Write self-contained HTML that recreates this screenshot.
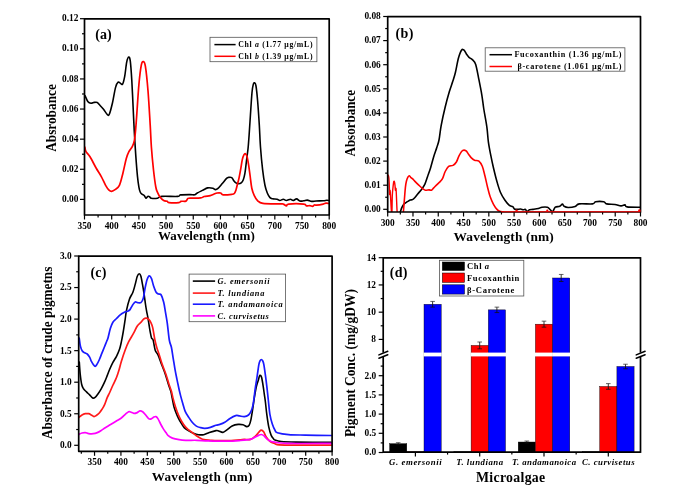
<!DOCTYPE html>
<html><head><meta charset="utf-8"><style>
html,body{margin:0;padding:0;background:#fff;}
svg{display:block;filter:blur(0.3px);}
</style></head><body>
<svg width="676" height="492" viewBox="0 0 676 492">
<rect width="676" height="492" fill="#fff"/>
<clipPath id="ca"><rect x="84.5" y="18.8" width="244.7" height="196.2"/></clipPath>
<path d="M85.00,95.50 C85.50,96.55 87.00,100.50 88.00,101.80 C89.00,103.10 89.97,103.20 91.00,103.30 C92.03,103.40 93.17,102.55 94.20,102.40 C95.23,102.25 96.37,102.05 97.20,102.40 C98.03,102.75 98.18,103.40 99.20,104.50 C100.22,105.60 101.93,107.32 103.30,109.00 C104.67,110.68 106.38,113.77 107.40,114.60 C108.42,115.43 108.55,115.97 109.40,114.00 C110.25,112.03 111.48,107.20 112.50,102.80 C113.52,98.40 114.57,91.05 115.50,87.60 C116.43,84.15 117.25,82.78 118.10,82.10 C118.95,81.42 119.85,83.17 120.60,83.50 C121.35,83.83 121.92,85.28 122.60,84.10 C123.28,82.92 124.02,80.05 124.70,76.40 C125.38,72.75 126.03,65.42 126.70,62.20 C127.37,58.98 128.10,57.27 128.70,57.10 C129.30,56.93 129.78,57.30 130.30,61.20 C130.82,65.10 131.32,72.53 131.80,80.50 C132.28,88.47 132.80,100.75 133.20,109.00 C133.60,117.25 133.77,122.18 134.20,130.00 C134.63,137.82 135.25,148.13 135.80,155.90 C136.35,163.67 136.98,171.40 137.50,176.60 C138.02,181.80 138.45,184.53 138.90,187.10 C139.35,189.67 139.68,190.82 140.20,192.00 C140.72,193.18 141.33,193.62 142.00,194.20 C142.67,194.78 143.53,194.83 144.20,195.50 C144.87,196.17 145.42,198.05 146.00,198.20 C146.58,198.35 147.12,196.65 147.70,196.40 C148.28,196.15 148.90,196.40 149.50,196.70 C150.10,197.00 149.97,197.95 151.30,198.20 C152.63,198.45 155.73,198.50 157.50,198.20 C159.27,197.90 158.50,196.70 161.90,196.40 C165.30,196.10 174.78,196.65 177.90,196.40 C181.02,196.15 178.58,195.20 180.60,194.90 C182.62,194.60 187.65,194.62 190.00,194.60 C192.35,194.58 193.48,195.07 194.70,194.80 C195.92,194.53 196.00,193.73 197.30,193.00 C198.60,192.27 200.78,191.25 202.50,190.40 C204.22,189.55 205.88,188.27 207.60,187.90 C209.32,187.53 211.50,187.92 212.80,188.20 C214.10,188.48 214.53,189.57 215.40,189.60 C216.27,189.63 216.85,189.42 218.00,188.40 C219.15,187.38 220.87,185.17 222.30,183.50 C223.73,181.83 225.57,179.42 226.60,178.40 C227.63,177.38 227.65,177.53 228.50,177.40 C229.35,177.27 230.82,177.03 231.70,177.60 C232.58,178.17 233.10,179.92 233.80,180.80 C234.50,181.68 235.10,182.42 235.90,182.90 C236.70,183.38 237.72,183.70 238.60,183.70 C239.48,183.70 240.42,183.57 241.20,182.90 C241.98,182.23 242.68,181.28 243.30,179.70 C243.92,178.12 244.45,175.87 244.90,173.40 C245.35,170.93 245.65,167.72 246.00,164.90 C246.35,162.08 246.65,159.32 247.00,156.50 C247.35,153.68 247.75,151.55 248.10,148.00 C248.45,144.45 248.73,140.37 249.10,135.20 C249.47,130.03 249.82,124.12 250.30,117.00 C250.78,109.88 251.50,97.93 252.00,92.50 C252.50,87.07 252.85,86.02 253.30,84.40 C253.75,82.78 254.25,82.53 254.70,82.80 C255.15,83.07 255.52,83.02 256.00,86.00 C256.48,88.98 257.05,94.20 257.60,100.70 C258.15,107.20 258.82,117.23 259.30,125.00 C259.78,132.77 259.95,139.85 260.50,147.30 C261.05,154.75 261.87,163.42 262.60,169.70 C263.33,175.98 264.12,181.12 264.90,185.00 C265.68,188.88 266.45,190.90 267.30,193.00 C268.15,195.10 269.10,196.63 270.00,197.60 C270.90,198.57 271.52,198.53 272.70,198.80 C273.88,199.07 275.92,198.92 277.10,199.20 C278.28,199.48 278.77,200.50 279.80,200.50 C280.83,200.50 282.20,199.20 283.30,199.20 C284.40,199.20 285.22,200.50 286.40,200.50 C287.58,200.50 289.28,199.20 290.40,199.20 C291.52,199.20 292.07,200.55 293.10,200.50 C294.13,200.45 295.50,198.82 296.60,198.90 C297.70,198.98 298.52,200.68 299.70,201.00 C300.88,201.32 302.43,200.95 303.70,200.80 C304.97,200.65 305.97,200.00 307.30,200.10 C308.63,200.20 310.23,201.25 311.70,201.40 C313.17,201.55 314.18,201.10 316.10,201.00 C318.02,200.90 321.42,200.92 323.20,200.80 C324.98,200.68 325.87,200.35 326.80,200.30 C327.73,200.25 328.47,200.47 328.80,200.50" fill="none" stroke="#000" stroke-width="1.6" stroke-linejoin="round" stroke-linecap="round" clip-path="url(#ca)"/>
<path d="M84.80,147.00 C85.00,147.77 85.13,149.97 86.00,151.60 C86.87,153.23 88.32,154.07 90.00,156.80 C91.68,159.53 94.22,164.70 96.10,168.00 C97.98,171.30 99.72,173.72 101.30,176.60 C102.88,179.48 104.32,183.05 105.60,185.30 C106.88,187.55 108.00,189.10 109.00,190.10 C110.00,191.10 110.58,191.38 111.60,191.30 C112.62,191.22 113.80,190.60 115.10,189.60 C116.40,188.60 118.10,188.03 119.40,185.30 C120.70,182.57 121.75,177.67 122.90,173.20 C124.05,168.73 125.30,162.10 126.30,158.50 C127.30,154.90 127.88,153.62 128.90,151.60 C129.92,149.58 131.48,148.27 132.40,146.40 C133.32,144.53 133.87,143.13 134.40,140.40 C134.93,137.67 135.23,133.90 135.60,130.00 C135.97,126.10 136.05,124.57 136.60,117.00 C137.15,109.43 138.12,93.23 138.90,84.60 C139.68,75.97 140.57,69.03 141.30,65.20 C142.03,61.37 142.62,61.42 143.30,61.60 C143.98,61.78 144.62,61.45 145.40,66.30 C146.18,71.15 147.20,80.92 148.00,90.70 C148.80,100.48 149.63,115.57 150.20,125.00 C150.77,134.43 150.85,139.80 151.40,147.30 C151.95,154.80 152.77,163.38 153.50,170.00 C154.23,176.62 155.13,183.27 155.80,187.00 C156.47,190.73 156.77,190.68 157.50,192.40 C158.23,194.12 159.17,195.93 160.20,197.30 C161.23,198.67 162.52,199.93 163.70,200.60 C164.88,201.27 166.42,200.97 167.30,201.30 C168.18,201.63 167.08,202.38 169.00,202.60 C170.92,202.82 176.80,202.82 178.80,202.60 C180.80,202.38 179.82,201.55 181.00,201.30 C182.18,201.05 184.78,201.55 185.90,201.10 C187.02,200.65 187.02,199.08 187.70,198.60 C188.38,198.12 187.83,198.32 190.00,198.20 C192.17,198.08 198.33,198.18 200.70,197.90 C203.07,197.62 202.62,196.88 204.20,196.50 C205.78,196.12 208.62,195.98 210.20,195.60 C211.78,195.22 212.55,194.63 213.70,194.20 C214.85,193.77 215.95,193.20 217.10,193.00 C218.25,192.80 219.58,192.70 220.60,193.00 C221.62,193.30 221.33,194.58 223.20,194.80 C225.07,195.02 229.95,194.52 231.80,194.30 C233.65,194.08 233.62,194.17 234.30,193.50 C234.98,192.83 235.37,191.88 235.90,190.30 C236.43,188.72 236.97,186.12 237.50,184.00 C238.03,181.88 238.57,180.08 239.10,177.60 C239.63,175.12 240.17,172.10 240.70,169.10 C241.23,166.10 241.77,161.97 242.30,159.60 C242.83,157.23 243.38,155.87 243.90,154.90 C244.42,153.93 244.88,153.53 245.40,153.80 C245.92,154.07 246.47,154.65 247.00,156.50 C247.53,158.35 248.07,161.57 248.60,164.90 C249.13,168.23 249.67,172.62 250.20,176.50 C250.73,180.38 251.12,185.02 251.80,188.20 C252.48,191.38 253.32,193.50 254.30,195.60 C255.28,197.70 256.27,199.50 257.70,200.80 C259.13,202.10 259.18,202.88 262.90,203.40 C266.62,203.92 276.60,203.78 280.00,203.90 C283.40,204.02 282.23,203.77 283.30,204.10 C284.37,204.43 285.52,205.90 286.40,205.90 C287.28,205.90 285.72,204.40 288.60,204.10 C291.48,203.80 300.73,203.80 303.70,204.10 C306.67,204.40 305.37,205.65 306.40,205.90 C307.43,206.15 308.87,205.53 309.90,205.60 C310.93,205.67 311.85,206.40 312.60,206.30 C313.35,206.20 313.73,205.18 314.40,205.00 C315.07,204.82 315.13,205.35 316.60,205.20 C318.07,205.05 321.65,204.43 323.20,204.10 C324.75,203.77 324.97,203.30 325.90,203.20 C326.83,203.10 328.32,203.45 328.80,203.50" fill="none" stroke="#ff0000" stroke-width="1.7" stroke-linejoin="round" stroke-linecap="round" clip-path="url(#ca)"/>
<line x1="80.00" y1="199.40" x2="84.50" y2="199.40" stroke="#000" stroke-width="1.2"/>
<text x="78.40" y="202.00" font-size="9.4" text-anchor="end" font-family="'Liberation Serif', serif" font-weight="bold" >0.00</text>
<line x1="82.00" y1="184.34" x2="84.50" y2="184.34" stroke="#000" stroke-width="1.2"/>
<line x1="80.00" y1="169.28" x2="84.50" y2="169.28" stroke="#000" stroke-width="1.2"/>
<text x="78.40" y="171.88" font-size="9.4" text-anchor="end" font-family="'Liberation Serif', serif" font-weight="bold" >0.02</text>
<line x1="82.00" y1="154.23" x2="84.50" y2="154.23" stroke="#000" stroke-width="1.2"/>
<line x1="80.00" y1="139.17" x2="84.50" y2="139.17" stroke="#000" stroke-width="1.2"/>
<text x="78.40" y="141.77" font-size="9.4" text-anchor="end" font-family="'Liberation Serif', serif" font-weight="bold" >0.04</text>
<line x1="82.00" y1="124.11" x2="84.50" y2="124.11" stroke="#000" stroke-width="1.2"/>
<line x1="80.00" y1="109.05" x2="84.50" y2="109.05" stroke="#000" stroke-width="1.2"/>
<text x="78.40" y="111.65" font-size="9.4" text-anchor="end" font-family="'Liberation Serif', serif" font-weight="bold" >0.06</text>
<line x1="82.00" y1="93.99" x2="84.50" y2="93.99" stroke="#000" stroke-width="1.2"/>
<line x1="80.00" y1="78.94" x2="84.50" y2="78.94" stroke="#000" stroke-width="1.2"/>
<text x="78.40" y="81.54" font-size="9.4" text-anchor="end" font-family="'Liberation Serif', serif" font-weight="bold" >0.08</text>
<line x1="82.00" y1="63.88" x2="84.50" y2="63.88" stroke="#000" stroke-width="1.2"/>
<line x1="80.00" y1="48.82" x2="84.50" y2="48.82" stroke="#000" stroke-width="1.2"/>
<text x="78.40" y="51.42" font-size="9.4" text-anchor="end" font-family="'Liberation Serif', serif" font-weight="bold" >0.10</text>
<line x1="82.00" y1="33.76" x2="84.50" y2="33.76" stroke="#000" stroke-width="1.2"/>
<line x1="80.00" y1="18.70" x2="84.50" y2="18.70" stroke="#000" stroke-width="1.2"/>
<text x="78.40" y="21.30" font-size="9.4" text-anchor="end" font-family="'Liberation Serif', serif" font-weight="bold" >0.12</text>
<line x1="84.50" y1="215.00" x2="84.50" y2="219.50" stroke="#000" stroke-width="1.2"/>
<text x="84.50" y="228.60" font-size="9.4" text-anchor="middle" font-family="'Liberation Serif', serif" font-weight="bold" >350</text>
<line x1="98.09" y1="215.00" x2="98.09" y2="217.50" stroke="#000" stroke-width="1.2"/>
<line x1="111.69" y1="215.00" x2="111.69" y2="219.50" stroke="#000" stroke-width="1.2"/>
<text x="111.69" y="228.60" font-size="9.4" text-anchor="middle" font-family="'Liberation Serif', serif" font-weight="bold" >400</text>
<line x1="125.28" y1="215.00" x2="125.28" y2="217.50" stroke="#000" stroke-width="1.2"/>
<line x1="138.88" y1="215.00" x2="138.88" y2="219.50" stroke="#000" stroke-width="1.2"/>
<text x="138.88" y="228.60" font-size="9.4" text-anchor="middle" font-family="'Liberation Serif', serif" font-weight="bold" >450</text>
<line x1="152.47" y1="215.00" x2="152.47" y2="217.50" stroke="#000" stroke-width="1.2"/>
<line x1="166.07" y1="215.00" x2="166.07" y2="219.50" stroke="#000" stroke-width="1.2"/>
<text x="166.07" y="228.60" font-size="9.4" text-anchor="middle" font-family="'Liberation Serif', serif" font-weight="bold" >500</text>
<line x1="179.66" y1="215.00" x2="179.66" y2="217.50" stroke="#000" stroke-width="1.2"/>
<line x1="193.26" y1="215.00" x2="193.26" y2="219.50" stroke="#000" stroke-width="1.2"/>
<text x="193.26" y="228.60" font-size="9.4" text-anchor="middle" font-family="'Liberation Serif', serif" font-weight="bold" >550</text>
<line x1="206.85" y1="215.00" x2="206.85" y2="217.50" stroke="#000" stroke-width="1.2"/>
<line x1="220.44" y1="215.00" x2="220.44" y2="219.50" stroke="#000" stroke-width="1.2"/>
<text x="220.44" y="228.60" font-size="9.4" text-anchor="middle" font-family="'Liberation Serif', serif" font-weight="bold" >600</text>
<line x1="234.04" y1="215.00" x2="234.04" y2="217.50" stroke="#000" stroke-width="1.2"/>
<line x1="247.63" y1="215.00" x2="247.63" y2="219.50" stroke="#000" stroke-width="1.2"/>
<text x="247.63" y="228.60" font-size="9.4" text-anchor="middle" font-family="'Liberation Serif', serif" font-weight="bold" >650</text>
<line x1="261.23" y1="215.00" x2="261.23" y2="217.50" stroke="#000" stroke-width="1.2"/>
<line x1="274.82" y1="215.00" x2="274.82" y2="219.50" stroke="#000" stroke-width="1.2"/>
<text x="274.82" y="228.60" font-size="9.4" text-anchor="middle" font-family="'Liberation Serif', serif" font-weight="bold" >700</text>
<line x1="288.42" y1="215.00" x2="288.42" y2="217.50" stroke="#000" stroke-width="1.2"/>
<line x1="302.01" y1="215.00" x2="302.01" y2="219.50" stroke="#000" stroke-width="1.2"/>
<text x="302.01" y="228.60" font-size="9.4" text-anchor="middle" font-family="'Liberation Serif', serif" font-weight="bold" >750</text>
<line x1="315.61" y1="215.00" x2="315.61" y2="217.50" stroke="#000" stroke-width="1.2"/>
<line x1="329.20" y1="215.00" x2="329.20" y2="219.50" stroke="#000" stroke-width="1.2"/>
<text x="329.20" y="228.60" font-size="9.4" text-anchor="middle" font-family="'Liberation Serif', serif" font-weight="bold" >800</text>
<rect x="84.50" y="18.80" width="244.70" height="196.20" fill="none" stroke="#000" stroke-width="1.7" stroke-linejoin="round"/>
<text x="158.0" y="240.2" font-size="13" font-family="'Liberation Serif', serif" font-weight="bold" textLength="96.8" lengthAdjust="spacing">Wavelength (nm)</text>
<text transform="translate(55.9,151.8) rotate(-90)" font-size="14.5" font-family="'Liberation Serif', serif" font-weight="bold" textLength="67.6" lengthAdjust="spacingAndGlyphs">Absrobance</text>
<text x="95.30" y="38.60" font-size="14" text-anchor="start" font-family="'Liberation Serif', serif" font-weight="bold" >(a)</text>
<rect x="210" y="37.3" width="106.9" height="24.4" fill="#fff" stroke="#555" stroke-width="0.8"/>
<line x1="214.40" y1="44.60" x2="235.60" y2="44.60" stroke="#000" stroke-width="1.5"/>
<line x1="214.40" y1="56.30" x2="235.60" y2="56.30" stroke="#ff0000" stroke-width="1.5"/>
<text x="238.2" y="47.2" font-size="7.8" font-family="'Liberation Serif', serif" font-weight="bold" textLength="74.3" lengthAdjust="spacing">Chl <tspan font-style="italic">a</tspan> (1.77 μg/mL)</text>
<text x="238.2" y="59.0" font-size="7.8" font-family="'Liberation Serif', serif" font-weight="bold" textLength="74.3" lengthAdjust="spacing">Chl <tspan font-style="italic">b</tspan> (1.39 μg/mL)</text>
<clipPath id="cb"><rect x="387.7" y="16.6" width="252.8" height="195.4"/></clipPath>
<path d="M399.50,213.00 C399.63,212.80 399.92,212.68 400.30,211.80 C400.68,210.92 401.22,208.97 401.80,207.70 C402.38,206.43 403.12,205.05 403.80,204.20 C404.48,203.35 405.13,203.12 405.90,202.60 C406.67,202.08 407.65,201.52 408.40,201.10 C409.15,200.68 409.72,200.35 410.40,200.10 C411.08,199.85 411.78,199.98 412.50,199.60 C413.22,199.22 413.83,198.73 414.70,197.80 C415.57,196.87 416.57,195.38 417.70,194.00 C418.83,192.62 420.30,191.15 421.50,189.50 C422.70,187.85 423.88,186.27 424.90,184.10 C425.92,181.93 426.63,179.28 427.60,176.50 C428.57,173.72 429.68,170.70 430.70,167.40 C431.72,164.10 432.68,160.00 433.70,156.70 C434.72,153.40 435.92,150.38 436.80,147.60 C437.68,144.82 438.27,143.72 439.00,140.00 C439.73,136.28 440.17,130.80 441.20,125.30 C442.23,119.80 443.85,112.58 445.20,107.00 C446.55,101.42 448.05,96.03 449.30,91.80 C450.55,87.57 451.68,84.82 452.70,81.60 C453.72,78.38 454.45,76.38 455.40,72.50 C456.35,68.62 457.38,62.02 458.40,58.30 C459.42,54.58 460.55,51.55 461.50,50.20 C462.45,48.85 463.27,49.53 464.10,50.20 C464.93,50.87 465.68,53.02 466.50,54.20 C467.32,55.38 467.98,56.35 469.00,57.30 C470.02,58.25 471.48,58.72 472.60,59.90 C473.72,61.08 474.68,61.28 475.70,64.40 C476.72,67.52 477.68,73.53 478.70,78.60 C479.72,83.67 480.95,89.73 481.80,94.80 C482.65,99.87 482.95,103.58 483.80,109.00 C484.65,114.42 486.13,121.78 486.90,127.30 C487.67,132.82 487.73,137.33 488.40,142.10 C489.07,146.87 490.05,151.58 490.90,155.90 C491.75,160.22 492.48,163.68 493.50,168.00 C494.52,172.32 495.85,177.77 497.00,181.80 C498.15,185.83 499.10,189.17 500.40,192.20 C501.70,195.23 503.35,197.85 504.80,200.00 C506.25,202.15 507.78,203.98 509.10,205.10 C510.42,206.22 511.82,206.05 512.70,206.70 C513.58,207.35 513.67,208.55 514.40,209.00 C515.13,209.45 516.07,209.40 517.10,209.40 C518.13,209.40 519.57,208.93 520.60,209.00 C521.63,209.07 522.48,209.73 523.30,209.80 C524.12,209.87 524.90,209.10 525.50,209.40 C526.10,209.70 526.23,211.53 526.90,211.60 C527.57,211.67 528.47,210.17 529.50,209.80 C530.53,209.43 531.62,209.62 533.10,209.40 C534.58,209.18 536.93,208.87 538.40,208.50 C539.87,208.13 540.42,207.42 541.90,207.20 C543.38,206.98 545.97,206.83 547.30,207.20 C548.63,207.57 549.02,208.67 549.90,209.40 C550.78,210.13 551.70,211.97 552.60,211.60 C553.50,211.23 554.12,208.08 555.30,207.20 C556.48,206.32 558.52,206.82 559.70,206.30 C560.88,205.78 561.67,204.10 562.40,204.10 C563.13,204.10 563.15,205.73 564.10,206.30 C565.05,206.87 566.25,207.47 568.10,207.50 C569.95,207.53 573.33,207.10 575.20,206.50 C577.07,205.90 576.42,204.33 579.30,203.90 C582.18,203.47 589.78,204.25 592.50,203.90 C595.22,203.55 593.73,202.15 595.60,201.80 C597.47,201.45 601.85,201.45 603.70,201.80 C605.55,202.15 604.83,203.45 606.70,203.90 C608.57,204.35 612.52,204.17 614.90,204.50 C617.28,204.83 619.32,205.83 621.00,205.90 C622.68,205.97 623.98,204.73 625.00,204.90 C626.02,205.07 624.55,206.50 627.10,206.90 C629.65,207.30 638.10,207.23 640.30,207.30" fill="none" stroke="#000" stroke-width="1.6" stroke-linejoin="round" stroke-linecap="round" clip-path="url(#cb)"/>
<path d="M388.30,175.20 C388.40,175.70 388.73,176.52 388.90,178.20 C389.07,179.88 389.18,182.58 389.30,185.30 C389.42,188.02 389.47,193.65 389.60,194.50 C389.73,195.35 389.93,189.88 390.10,190.40 C390.27,190.92 390.40,194.37 390.60,197.60 C390.80,200.83 391.08,207.23 391.30,209.80 C391.52,212.37 391.73,215.38 391.90,213.00 C392.07,210.62 392.12,199.77 392.30,195.50 C392.48,191.23 392.77,189.68 393.00,187.40 C393.23,185.12 393.47,182.73 393.70,181.80 C393.93,180.87 394.18,181.22 394.40,181.80 C394.62,182.38 394.83,183.87 395.00,185.30 C395.17,186.73 395.23,189.88 395.40,190.40 C395.57,190.92 395.83,187.55 396.00,188.40 C396.17,189.25 396.23,191.93 396.40,195.50 C396.57,199.07 396.83,206.88 397.00,209.80 C397.17,212.72 397.33,212.47 397.40,213.00" fill="none" stroke="#ff0000" stroke-width="1.4" stroke-linejoin="round" stroke-linecap="round" clip-path="url(#cb)"/>
<path d="M403.30,213.00 C403.47,210.93 403.95,204.87 404.30,200.60 C404.65,196.33 405.05,190.62 405.40,187.40 C405.75,184.18 405.98,183.00 406.40,181.30 C406.82,179.60 407.40,178.13 407.90,177.20 C408.40,176.27 408.88,175.62 409.40,175.70 C409.92,175.78 410.48,177.20 411.00,177.70 C411.52,178.20 411.88,178.13 412.50,178.70 C413.12,179.27 413.70,180.07 414.70,181.10 C415.70,182.13 417.23,183.68 418.50,184.90 C419.77,186.12 421.17,187.52 422.30,188.40 C423.43,189.28 424.17,189.95 425.30,190.20 C426.43,190.45 428.08,189.90 429.10,189.90 C430.12,189.90 430.63,190.53 431.40,190.20 C432.17,189.87 432.68,188.92 433.70,187.90 C434.72,186.88 436.35,185.23 437.50,184.10 C438.65,182.97 439.75,182.05 440.60,181.10 C441.45,180.15 441.83,180.00 442.60,178.40 C443.37,176.80 444.20,173.52 445.20,171.50 C446.20,169.48 447.30,167.32 448.60,166.30 C449.90,165.28 451.70,166.12 453.00,165.40 C454.30,164.68 455.40,163.58 456.40,162.00 C457.40,160.42 457.98,157.78 459.00,155.90 C460.02,154.02 461.35,151.57 462.50,150.70 C463.65,149.83 464.90,150.12 465.90,150.70 C466.90,151.28 467.63,153.05 468.50,154.20 C469.37,155.35 470.10,156.60 471.10,157.60 C472.10,158.60 473.20,159.62 474.50,160.20 C475.80,160.78 477.60,160.08 478.90,161.10 C480.20,162.12 481.30,163.85 482.30,166.30 C483.30,168.75 484.03,172.35 484.90,175.80 C485.77,179.25 486.63,183.55 487.50,187.00 C488.37,190.45 489.10,193.62 490.10,196.50 C491.10,199.38 492.35,202.15 493.50,204.30 C494.65,206.45 495.98,208.25 497.00,209.40 C498.02,210.55 498.60,210.80 499.60,211.20 C500.60,211.60 502.43,211.70 503.00,211.80" fill="none" stroke="#ff0000" stroke-width="1.6" stroke-linejoin="round" stroke-linecap="round" clip-path="url(#cb)"/>
<line x1="383.20" y1="209.30" x2="387.70" y2="209.30" stroke="#000" stroke-width="1.2"/>
<text x="380.80" y="212.10" font-size="9.4" text-anchor="end" font-family="'Liberation Serif', serif" font-weight="bold" >0.00</text>
<line x1="385.20" y1="197.25" x2="387.70" y2="197.25" stroke="#000" stroke-width="1.2"/>
<line x1="383.20" y1="185.20" x2="387.70" y2="185.20" stroke="#000" stroke-width="1.2"/>
<text x="380.80" y="188.00" font-size="9.4" text-anchor="end" font-family="'Liberation Serif', serif" font-weight="bold" >0.01</text>
<line x1="385.20" y1="173.15" x2="387.70" y2="173.15" stroke="#000" stroke-width="1.2"/>
<line x1="383.20" y1="161.10" x2="387.70" y2="161.10" stroke="#000" stroke-width="1.2"/>
<text x="380.80" y="163.90" font-size="9.4" text-anchor="end" font-family="'Liberation Serif', serif" font-weight="bold" >0.02</text>
<line x1="385.20" y1="149.05" x2="387.70" y2="149.05" stroke="#000" stroke-width="1.2"/>
<line x1="383.20" y1="137.00" x2="387.70" y2="137.00" stroke="#000" stroke-width="1.2"/>
<text x="380.80" y="139.80" font-size="9.4" text-anchor="end" font-family="'Liberation Serif', serif" font-weight="bold" >0.03</text>
<line x1="385.20" y1="124.95" x2="387.70" y2="124.95" stroke="#000" stroke-width="1.2"/>
<line x1="383.20" y1="112.90" x2="387.70" y2="112.90" stroke="#000" stroke-width="1.2"/>
<text x="380.80" y="115.70" font-size="9.4" text-anchor="end" font-family="'Liberation Serif', serif" font-weight="bold" >0.04</text>
<line x1="385.20" y1="100.85" x2="387.70" y2="100.85" stroke="#000" stroke-width="1.2"/>
<line x1="383.20" y1="88.80" x2="387.70" y2="88.80" stroke="#000" stroke-width="1.2"/>
<text x="380.80" y="91.60" font-size="9.4" text-anchor="end" font-family="'Liberation Serif', serif" font-weight="bold" >0.05</text>
<line x1="385.20" y1="76.75" x2="387.70" y2="76.75" stroke="#000" stroke-width="1.2"/>
<line x1="383.20" y1="64.70" x2="387.70" y2="64.70" stroke="#000" stroke-width="1.2"/>
<text x="380.80" y="67.50" font-size="9.4" text-anchor="end" font-family="'Liberation Serif', serif" font-weight="bold" >0.06</text>
<line x1="385.20" y1="52.65" x2="387.70" y2="52.65" stroke="#000" stroke-width="1.2"/>
<line x1="383.20" y1="40.60" x2="387.70" y2="40.60" stroke="#000" stroke-width="1.2"/>
<text x="380.80" y="43.40" font-size="9.4" text-anchor="end" font-family="'Liberation Serif', serif" font-weight="bold" >0.07</text>
<line x1="385.20" y1="28.55" x2="387.70" y2="28.55" stroke="#000" stroke-width="1.2"/>
<line x1="383.20" y1="16.50" x2="387.70" y2="16.50" stroke="#000" stroke-width="1.2"/>
<text x="380.80" y="19.30" font-size="9.4" text-anchor="end" font-family="'Liberation Serif', serif" font-weight="bold" >0.08</text>
<line x1="387.70" y1="212.00" x2="387.70" y2="216.50" stroke="#000" stroke-width="1.2"/>
<text x="387.70" y="225.90" font-size="9.4" text-anchor="middle" font-family="'Liberation Serif', serif" font-weight="bold" >300</text>
<line x1="400.34" y1="212.00" x2="400.34" y2="214.50" stroke="#000" stroke-width="1.2"/>
<line x1="412.98" y1="212.00" x2="412.98" y2="216.50" stroke="#000" stroke-width="1.2"/>
<text x="412.98" y="225.90" font-size="9.4" text-anchor="middle" font-family="'Liberation Serif', serif" font-weight="bold" >350</text>
<line x1="425.62" y1="212.00" x2="425.62" y2="214.50" stroke="#000" stroke-width="1.2"/>
<line x1="438.26" y1="212.00" x2="438.26" y2="216.50" stroke="#000" stroke-width="1.2"/>
<text x="438.26" y="225.90" font-size="9.4" text-anchor="middle" font-family="'Liberation Serif', serif" font-weight="bold" >400</text>
<line x1="450.90" y1="212.00" x2="450.90" y2="214.50" stroke="#000" stroke-width="1.2"/>
<line x1="463.54" y1="212.00" x2="463.54" y2="216.50" stroke="#000" stroke-width="1.2"/>
<text x="463.54" y="225.90" font-size="9.4" text-anchor="middle" font-family="'Liberation Serif', serif" font-weight="bold" >450</text>
<line x1="476.18" y1="212.00" x2="476.18" y2="214.50" stroke="#000" stroke-width="1.2"/>
<line x1="488.82" y1="212.00" x2="488.82" y2="216.50" stroke="#000" stroke-width="1.2"/>
<text x="488.82" y="225.90" font-size="9.4" text-anchor="middle" font-family="'Liberation Serif', serif" font-weight="bold" >500</text>
<line x1="501.46" y1="212.00" x2="501.46" y2="214.50" stroke="#000" stroke-width="1.2"/>
<line x1="514.10" y1="212.00" x2="514.10" y2="216.50" stroke="#000" stroke-width="1.2"/>
<text x="514.10" y="225.90" font-size="9.4" text-anchor="middle" font-family="'Liberation Serif', serif" font-weight="bold" >550</text>
<line x1="526.74" y1="212.00" x2="526.74" y2="214.50" stroke="#000" stroke-width="1.2"/>
<line x1="539.38" y1="212.00" x2="539.38" y2="216.50" stroke="#000" stroke-width="1.2"/>
<text x="539.38" y="225.90" font-size="9.4" text-anchor="middle" font-family="'Liberation Serif', serif" font-weight="bold" >600</text>
<line x1="552.02" y1="212.00" x2="552.02" y2="214.50" stroke="#000" stroke-width="1.2"/>
<line x1="564.66" y1="212.00" x2="564.66" y2="216.50" stroke="#000" stroke-width="1.2"/>
<text x="564.66" y="225.90" font-size="9.4" text-anchor="middle" font-family="'Liberation Serif', serif" font-weight="bold" >650</text>
<line x1="577.30" y1="212.00" x2="577.30" y2="214.50" stroke="#000" stroke-width="1.2"/>
<line x1="589.94" y1="212.00" x2="589.94" y2="216.50" stroke="#000" stroke-width="1.2"/>
<text x="589.94" y="225.90" font-size="9.4" text-anchor="middle" font-family="'Liberation Serif', serif" font-weight="bold" >700</text>
<line x1="602.58" y1="212.00" x2="602.58" y2="214.50" stroke="#000" stroke-width="1.2"/>
<line x1="615.22" y1="212.00" x2="615.22" y2="216.50" stroke="#000" stroke-width="1.2"/>
<text x="615.22" y="225.90" font-size="9.4" text-anchor="middle" font-family="'Liberation Serif', serif" font-weight="bold" >750</text>
<line x1="627.86" y1="212.00" x2="627.86" y2="214.50" stroke="#000" stroke-width="1.2"/>
<line x1="640.50" y1="212.00" x2="640.50" y2="216.50" stroke="#000" stroke-width="1.2"/>
<text x="640.50" y="225.90" font-size="9.4" text-anchor="middle" font-family="'Liberation Serif', serif" font-weight="bold" >800</text>
<rect x="387.70" y="16.60" width="252.80" height="195.40" fill="none" stroke="#000" stroke-width="1.7" stroke-linejoin="round"/>
<line x1="501.00" y1="211.80" x2="640.50" y2="211.80" stroke="#ff0000" stroke-width="1.1"/>
<circle cx="516.6" cy="210.6" r="1.1" fill="#ff0000"/><circle cx="547.3" cy="210.6" r="1.1" fill="#ff0000"/><circle cx="639.4" cy="210.4" r="1.2" fill="#ff0000"/>
<text x="453.6" y="241.0" font-size="13.4" font-family="'Liberation Serif', serif" font-weight="bold" textLength="100.2" lengthAdjust="spacing">Wavelength (nm)</text>
<text transform="translate(355.1,156.5) rotate(-90)" font-size="14.5" font-family="'Liberation Serif', serif" font-weight="bold" textLength="66.4" lengthAdjust="spacingAndGlyphs">Absorbance</text>
<text x="395.40" y="37.70" font-size="14" text-anchor="start" font-family="'Liberation Serif', serif" font-weight="bold" letter-spacing="0.5">(b)</text>
<rect x="485.2" y="47.8" width="139.7" height="23.4" fill="#fff" stroke="#555" stroke-width="0.8"/>
<line x1="489.50" y1="54.70" x2="512.00" y2="54.70" stroke="#000" stroke-width="1.5"/>
<line x1="489.50" y1="66.50" x2="512.00" y2="66.50" stroke="#ff0000" stroke-width="1.5"/>
<text x="514.4" y="57.0" font-size="8.2" font-family="'Liberation Serif', serif" font-weight="bold" textLength="107" lengthAdjust="spacing">Fucoxanthin (1.36 μg/mL)</text>
<text x="517.4" y="68.8" font-size="8.2" font-family="'Liberation Serif', serif" font-weight="bold" textLength="104" lengthAdjust="spacing">β-carotene (1.061 μg/mL)</text>
<clipPath id="cc"><rect x="78.7" y="256.1" width="253.40000000000003" height="195.2"/></clipPath>
<path d="M79.30,362.00 C79.45,364.00 79.80,370.25 80.20,374.00 C80.60,377.75 81.15,382.03 81.70,384.50 C82.25,386.97 82.70,387.57 83.50,388.80 C84.30,390.03 85.48,390.88 86.50,391.90 C87.52,392.92 88.57,393.88 89.60,394.90 C90.63,395.92 91.78,397.58 92.70,398.00 C93.62,398.42 94.20,398.12 95.10,397.40 C96.00,396.68 97.08,395.13 98.10,393.70 C99.12,392.27 100.17,390.63 101.20,388.80 C102.23,386.97 103.28,384.93 104.30,382.70 C105.32,380.47 106.40,377.63 107.30,375.40 C108.20,373.17 108.77,371.47 109.70,369.30 C110.63,367.13 111.77,364.57 112.90,362.40 C114.03,360.23 115.38,358.53 116.50,356.30 C117.62,354.07 118.78,351.43 119.60,349.00 C120.42,346.57 120.80,344.53 121.40,341.70 C122.00,338.87 122.58,335.65 123.20,332.00 C123.82,328.35 124.55,323.40 125.10,319.80 C125.65,316.20 125.77,313.87 126.50,310.40 C127.23,306.93 128.45,301.98 129.50,299.00 C130.55,296.02 131.85,294.93 132.80,292.50 C133.75,290.07 134.45,287.10 135.20,284.40 C135.95,281.70 136.62,278.07 137.30,276.30 C137.98,274.53 138.70,273.80 139.30,273.80 C139.90,273.80 140.37,274.53 140.90,276.30 C141.43,278.07 141.97,281.43 142.50,284.40 C143.03,287.37 143.58,290.67 144.10,294.10 C144.62,297.53 145.18,302.17 145.60,305.00 C146.02,307.83 146.23,309.07 146.60,311.10 C146.97,313.13 147.40,314.97 147.80,317.20 C148.20,319.43 148.60,322.07 149.00,324.50 C149.40,326.93 149.78,329.57 150.20,331.80 C150.62,334.03 151.02,336.53 151.50,337.90 C151.98,339.27 152.63,338.63 153.10,340.00 C153.57,341.37 153.90,344.27 154.30,346.10 C154.70,347.93 154.90,349.57 155.50,351.00 C156.10,352.43 156.88,352.47 157.90,354.70 C158.92,356.93 160.37,361.15 161.60,364.40 C162.83,367.65 164.18,370.93 165.30,374.20 C166.42,377.47 167.38,381.15 168.30,384.00 C169.22,386.85 170.15,388.95 170.80,391.30 C171.45,393.65 171.65,395.43 172.20,398.10 C172.75,400.77 173.28,404.42 174.10,407.30 C174.92,410.18 176.08,413.03 177.10,415.40 C178.12,417.77 179.02,419.47 180.20,421.50 C181.38,423.53 182.85,426.08 184.20,427.60 C185.55,429.12 186.77,429.67 188.30,430.60 C189.83,431.53 191.70,432.52 193.40,433.20 C195.10,433.88 196.78,434.45 198.50,434.70 C200.22,434.95 201.90,435.07 203.70,434.70 C205.50,434.33 207.25,433.18 209.30,432.50 C211.35,431.82 214.43,430.87 216.00,430.60 C217.57,430.33 217.55,430.60 218.70,430.90 C219.85,431.20 221.48,432.62 222.90,432.40 C224.32,432.18 225.67,430.67 227.20,429.60 C228.73,428.53 230.27,426.87 232.10,426.00 C233.93,425.13 236.38,424.60 238.20,424.40 C240.02,424.20 241.58,424.43 243.00,424.80 C244.42,425.17 245.68,426.50 246.70,426.60 C247.72,426.70 248.38,426.62 249.10,425.40 C249.82,424.18 250.38,422.15 251.00,419.30 C251.62,416.45 252.20,412.17 252.80,408.30 C253.40,404.43 253.98,399.82 254.60,396.10 C255.22,392.38 255.88,388.65 256.50,386.00 C257.12,383.35 257.80,381.87 258.30,380.20 C258.80,378.53 259.13,376.80 259.50,376.00 C259.87,375.20 260.13,375.10 260.50,375.40 C260.87,375.70 261.25,375.98 261.70,377.80 C262.15,379.62 262.75,383.45 263.20,386.30 C263.65,389.15 264.03,392.28 264.40,394.90 C264.77,397.52 265.00,398.75 265.40,402.00 C265.80,405.25 266.25,410.30 266.80,414.40 C267.35,418.50 267.98,423.15 268.70,426.60 C269.42,430.05 270.30,433.07 271.10,435.10 C271.90,437.13 272.85,437.98 273.50,438.80 C274.15,439.62 273.73,439.55 275.00,440.00 C276.27,440.45 277.58,441.15 281.10,441.50 C284.62,441.85 287.72,441.97 296.10,442.10 C304.48,442.23 325.52,442.27 331.40,442.30" fill="none" stroke="#000" stroke-width="1.6" stroke-linejoin="round" stroke-linecap="round" clip-path="url(#cc)"/>
<path d="M78.90,417.30 C79.42,416.90 80.93,415.50 82.00,414.90 C83.07,414.30 84.20,413.90 85.30,413.70 C86.40,413.50 87.60,413.50 88.60,413.70 C89.60,413.90 90.40,414.42 91.30,414.90 C92.20,415.38 93.12,416.53 94.00,416.60 C94.88,416.67 95.72,415.90 96.60,415.30 C97.48,414.70 98.40,414.00 99.30,413.00 C100.20,412.00 101.12,410.68 102.00,409.30 C102.88,407.92 103.72,406.68 104.60,404.70 C105.48,402.72 106.45,399.43 107.30,397.40 C108.15,395.37 108.75,394.57 109.70,392.50 C110.65,390.43 111.87,387.50 113.00,385.00 C114.13,382.50 115.50,380.00 116.50,377.50 C117.50,375.00 118.18,372.72 119.00,370.00 C119.82,367.28 120.38,364.50 121.40,361.20 C122.42,357.90 123.88,353.45 125.10,350.20 C126.32,346.95 127.28,344.53 128.70,341.70 C130.12,338.87 132.17,335.83 133.60,333.20 C135.03,330.57 136.05,327.75 137.30,325.90 C138.55,324.05 139.97,323.30 141.10,322.10 C142.23,320.90 143.18,319.35 144.10,318.70 C145.02,318.05 145.78,318.05 146.60,318.20 C147.42,318.35 148.28,318.85 149.00,319.60 C149.72,320.35 150.28,321.37 150.90,322.70 C151.52,324.03 152.03,324.72 152.70,327.60 C153.37,330.48 154.23,336.72 154.90,340.00 C155.57,343.28 155.98,344.85 156.70,347.30 C157.42,349.75 158.28,351.85 159.20,354.70 C160.12,357.55 161.08,361.15 162.20,364.40 C163.32,367.65 164.78,370.93 165.90,374.20 C167.02,377.47 167.98,381.15 168.90,384.00 C169.82,386.85 170.72,388.95 171.40,391.30 C172.08,393.65 172.30,395.43 173.00,398.10 C173.70,400.77 174.67,404.42 175.60,407.30 C176.53,410.18 177.58,413.03 178.60,415.40 C179.62,417.77 180.60,419.63 181.70,421.50 C182.80,423.37 184.10,425.25 185.20,426.60 C186.30,427.95 187.10,428.58 188.30,429.60 C189.50,430.62 191.05,431.68 192.40,432.70 C193.75,433.72 195.05,434.77 196.40,435.70 C197.75,436.63 199.23,437.63 200.50,438.30 C201.77,438.97 202.35,439.37 204.00,439.70 C205.65,440.03 208.58,440.15 210.40,440.30 C212.22,440.45 212.10,440.55 214.90,440.60 C217.70,440.65 223.12,440.73 227.20,440.60 C231.28,440.47 236.55,440.00 239.40,439.80 C242.25,439.60 242.47,439.47 244.30,439.40 C246.13,439.33 248.58,439.92 250.40,439.40 C252.22,438.88 253.78,437.52 255.20,436.30 C256.62,435.08 257.88,433.12 258.90,432.10 C259.92,431.08 260.48,430.20 261.30,430.20 C262.12,430.20 262.98,430.97 263.80,432.10 C264.62,433.23 265.18,435.48 266.20,437.00 C267.22,438.52 268.43,440.08 269.90,441.20 C271.37,442.32 273.43,443.08 275.00,443.70 C276.57,444.32 275.78,444.65 279.30,444.90 C282.82,445.15 287.42,445.15 296.10,445.20 C304.78,445.25 325.52,445.20 331.40,445.20" fill="none" stroke="#ff1a1a" stroke-width="1.7" stroke-linejoin="round" stroke-linecap="round" clip-path="url(#cc)"/>
<path d="M79.20,338.00 C79.40,339.35 79.88,343.93 80.40,346.10 C80.92,348.27 81.58,349.88 82.30,351.00 C83.02,352.12 83.88,352.30 84.70,352.80 C85.52,353.30 86.38,353.28 87.20,354.00 C88.02,354.72 88.90,355.87 89.60,357.10 C90.30,358.33 90.78,360.18 91.40,361.40 C92.02,362.62 92.68,363.58 93.30,364.40 C93.92,365.22 94.50,366.30 95.10,366.30 C95.70,366.30 96.18,365.53 96.90,364.40 C97.62,363.27 98.58,361.33 99.40,359.50 C100.22,357.67 100.98,355.43 101.80,353.40 C102.62,351.37 103.48,349.33 104.30,347.30 C105.12,345.27 106.08,342.75 106.70,341.20 C107.32,339.65 107.38,340.15 108.00,338.00 C108.62,335.85 109.58,330.93 110.40,328.30 C111.22,325.67 111.88,323.83 112.90,322.20 C113.92,320.57 115.28,319.72 116.50,318.50 C117.72,317.28 118.97,315.92 120.20,314.90 C121.43,313.88 122.68,313.02 123.90,312.40 C125.12,311.78 126.48,311.67 127.50,311.20 C128.52,310.73 129.12,310.68 130.00,309.60 C130.88,308.52 131.93,305.97 132.80,304.70 C133.67,303.43 134.40,302.35 135.20,302.00 C136.00,301.65 136.65,302.50 137.60,302.60 C138.55,302.70 139.95,303.33 140.90,302.60 C141.85,301.87 142.62,300.55 143.30,298.20 C143.98,295.85 144.37,291.62 145.00,288.50 C145.63,285.38 146.38,281.62 147.10,279.50 C147.82,277.38 148.57,275.93 149.30,275.80 C150.03,275.67 150.78,277.00 151.50,278.70 C152.22,280.40 152.80,283.70 153.60,286.00 C154.40,288.30 155.43,291.15 156.30,292.50 C157.17,293.85 157.98,293.68 158.80,294.10 C159.62,294.52 160.38,293.63 161.20,295.00 C162.02,296.37 162.98,299.42 163.70,302.30 C164.42,305.18 164.90,308.80 165.50,312.30 C166.10,315.80 166.67,318.68 167.30,323.30 C167.93,327.92 168.62,336.00 169.30,340.00 C169.98,344.00 170.75,344.25 171.40,347.30 C172.05,350.35 172.60,354.63 173.20,358.30 C173.80,361.97 174.38,365.83 175.00,369.30 C175.62,372.77 176.22,375.73 176.90,379.10 C177.58,382.47 178.47,386.67 179.10,389.50 C179.73,392.33 180.10,393.82 180.70,396.10 C181.30,398.38 181.95,400.67 182.70,403.20 C183.45,405.73 184.18,408.93 185.20,411.30 C186.22,413.67 187.60,415.53 188.80,417.40 C190.00,419.27 191.13,421.05 192.40,422.50 C193.67,423.95 195.05,425.25 196.40,426.10 C197.75,426.95 199.10,427.23 200.50,427.60 C201.90,427.97 203.15,428.33 204.80,428.30 C206.45,428.27 208.53,427.92 210.40,427.40 C212.27,426.88 214.42,425.70 216.00,425.20 C217.58,424.70 218.43,424.88 219.90,424.40 C221.37,423.92 223.18,423.25 224.80,422.30 C226.42,421.35 227.78,419.82 229.60,418.70 C231.42,417.58 234.07,416.07 235.70,415.60 C237.33,415.13 237.97,415.73 239.40,415.90 C240.83,416.07 242.78,416.75 244.30,416.60 C245.82,416.45 247.38,415.88 248.50,415.00 C249.62,414.12 250.28,412.82 251.00,411.30 C251.72,409.78 252.30,408.03 252.80,405.90 C253.30,403.77 253.60,401.35 254.00,398.50 C254.40,395.65 254.68,392.45 255.20,388.80 C255.72,385.15 256.48,380.67 257.10,376.60 C257.72,372.53 258.40,367.05 258.90,364.40 C259.40,361.75 259.70,361.52 260.10,360.70 C260.50,359.88 260.88,359.50 261.30,359.50 C261.72,359.50 262.18,359.88 262.60,360.70 C263.02,361.52 263.30,361.75 263.80,364.40 C264.30,367.05 265.05,372.53 265.60,376.60 C266.15,380.67 266.65,384.90 267.10,388.80 C267.55,392.70 267.83,395.73 268.30,400.00 C268.77,404.27 269.23,410.38 269.90,414.40 C270.57,418.42 271.45,421.47 272.30,424.10 C273.15,426.73 274.15,428.77 275.00,430.20 C275.85,431.63 275.13,431.97 277.40,432.70 C279.67,433.43 283.93,434.20 288.60,434.60 C293.27,435.00 298.27,434.95 305.40,435.10 C312.53,435.25 327.07,435.43 331.40,435.50" fill="none" stroke="#1a1aff" stroke-width="1.7" stroke-linejoin="round" stroke-linecap="round" clip-path="url(#cc)"/>
<path d="M78.90,434.40 C79.42,434.17 80.93,433.30 82.00,433.00 C83.07,432.70 84.20,432.50 85.30,432.60 C86.40,432.70 87.27,433.42 88.60,433.60 C89.93,433.78 91.85,433.87 93.30,433.70 C94.75,433.53 95.97,433.15 97.30,432.60 C98.63,432.05 99.97,431.22 101.30,430.40 C102.63,429.58 103.75,428.67 105.30,427.70 C106.85,426.73 108.82,425.67 110.60,424.60 C112.38,423.53 114.22,422.40 116.00,421.30 C117.78,420.20 119.75,419.15 121.30,418.00 C122.85,416.85 124.08,415.45 125.30,414.40 C126.52,413.35 127.72,412.10 128.60,411.70 C129.48,411.30 129.72,411.73 130.60,412.00 C131.48,412.27 132.90,413.15 133.90,413.30 C134.90,413.45 135.60,413.30 136.60,412.90 C137.60,412.50 138.90,411.10 139.90,410.90 C140.90,410.70 141.72,411.12 142.60,411.70 C143.48,412.28 144.20,413.25 145.20,414.40 C146.20,415.55 147.60,417.85 148.60,418.60 C149.60,419.35 150.32,419.17 151.20,418.90 C152.08,418.63 153.12,417.38 153.90,417.00 C154.68,416.62 155.23,416.33 155.90,416.60 C156.57,416.87 157.12,417.37 157.90,418.60 C158.68,419.83 159.72,422.33 160.60,424.00 C161.48,425.67 162.30,427.17 163.20,428.60 C164.10,430.03 165.22,431.48 166.00,432.60 C166.78,433.72 166.83,434.38 167.90,435.30 C168.97,436.22 170.53,437.37 172.40,438.10 C174.27,438.83 176.87,439.33 179.10,439.70 C181.33,440.07 182.82,440.20 185.80,440.30 C188.78,440.40 193.27,440.20 197.00,440.30 C200.73,440.40 203.17,440.75 208.20,440.90 C213.23,441.05 222.00,441.25 227.20,441.20 C232.40,441.15 235.53,440.90 239.40,440.60 C243.27,440.30 247.77,440.00 250.40,439.40 C253.03,438.80 253.78,437.72 255.20,437.00 C256.62,436.28 257.88,435.52 258.90,435.10 C259.92,434.68 260.48,434.40 261.30,434.50 C262.12,434.60 262.88,434.98 263.80,435.70 C264.72,436.42 265.68,437.88 266.80,438.80 C267.92,439.72 269.13,440.63 270.50,441.20 C271.87,441.77 272.30,441.83 275.00,442.20 C277.70,442.57 277.30,443.20 286.70,443.40 C296.10,443.60 323.95,443.40 331.40,443.40" fill="none" stroke="#ff00ff" stroke-width="1.7" stroke-linejoin="round" stroke-linecap="round" clip-path="url(#cc)"/>
<line x1="74.20" y1="445.30" x2="78.70" y2="445.30" stroke="#000" stroke-width="1.2"/>
<text x="71.60" y="448.20" font-size="9.4" text-anchor="end" font-family="'Liberation Serif', serif" font-weight="bold" >0.0</text>
<line x1="76.20" y1="429.53" x2="78.70" y2="429.53" stroke="#000" stroke-width="1.2"/>
<line x1="74.20" y1="413.75" x2="78.70" y2="413.75" stroke="#000" stroke-width="1.2"/>
<text x="71.60" y="416.65" font-size="9.4" text-anchor="end" font-family="'Liberation Serif', serif" font-weight="bold" >0.5</text>
<line x1="76.20" y1="397.98" x2="78.70" y2="397.98" stroke="#000" stroke-width="1.2"/>
<line x1="74.20" y1="382.20" x2="78.70" y2="382.20" stroke="#000" stroke-width="1.2"/>
<text x="71.60" y="385.10" font-size="9.4" text-anchor="end" font-family="'Liberation Serif', serif" font-weight="bold" >1.0</text>
<line x1="76.20" y1="366.43" x2="78.70" y2="366.43" stroke="#000" stroke-width="1.2"/>
<line x1="74.20" y1="350.65" x2="78.70" y2="350.65" stroke="#000" stroke-width="1.2"/>
<text x="71.60" y="353.55" font-size="9.4" text-anchor="end" font-family="'Liberation Serif', serif" font-weight="bold" >1.5</text>
<line x1="76.20" y1="334.88" x2="78.70" y2="334.88" stroke="#000" stroke-width="1.2"/>
<line x1="74.20" y1="319.10" x2="78.70" y2="319.10" stroke="#000" stroke-width="1.2"/>
<text x="71.60" y="322.00" font-size="9.4" text-anchor="end" font-family="'Liberation Serif', serif" font-weight="bold" >2.0</text>
<line x1="76.20" y1="303.33" x2="78.70" y2="303.33" stroke="#000" stroke-width="1.2"/>
<line x1="74.20" y1="287.55" x2="78.70" y2="287.55" stroke="#000" stroke-width="1.2"/>
<text x="71.60" y="290.45" font-size="9.4" text-anchor="end" font-family="'Liberation Serif', serif" font-weight="bold" >2.5</text>
<line x1="76.20" y1="271.77" x2="78.70" y2="271.77" stroke="#000" stroke-width="1.2"/>
<line x1="74.20" y1="256.00" x2="78.70" y2="256.00" stroke="#000" stroke-width="1.2"/>
<text x="71.60" y="258.90" font-size="9.4" text-anchor="end" font-family="'Liberation Serif', serif" font-weight="bold" >3.0</text>
<line x1="81.34" y1="451.30" x2="81.34" y2="453.80" stroke="#000" stroke-width="1.2"/>
<line x1="94.54" y1="451.30" x2="94.54" y2="455.80" stroke="#000" stroke-width="1.2"/>
<text x="94.54" y="464.70" font-size="9.4" text-anchor="middle" font-family="'Liberation Serif', serif" font-weight="bold" >350</text>
<line x1="107.74" y1="451.30" x2="107.74" y2="453.80" stroke="#000" stroke-width="1.2"/>
<line x1="120.93" y1="451.30" x2="120.93" y2="455.80" stroke="#000" stroke-width="1.2"/>
<text x="120.93" y="464.70" font-size="9.4" text-anchor="middle" font-family="'Liberation Serif', serif" font-weight="bold" >400</text>
<line x1="134.13" y1="451.30" x2="134.13" y2="453.80" stroke="#000" stroke-width="1.2"/>
<line x1="147.33" y1="451.30" x2="147.33" y2="455.80" stroke="#000" stroke-width="1.2"/>
<text x="147.33" y="464.70" font-size="9.4" text-anchor="middle" font-family="'Liberation Serif', serif" font-weight="bold" >450</text>
<line x1="160.53" y1="451.30" x2="160.53" y2="453.80" stroke="#000" stroke-width="1.2"/>
<line x1="173.73" y1="451.30" x2="173.73" y2="455.80" stroke="#000" stroke-width="1.2"/>
<text x="173.73" y="464.70" font-size="9.4" text-anchor="middle" font-family="'Liberation Serif', serif" font-weight="bold" >500</text>
<line x1="186.92" y1="451.30" x2="186.92" y2="453.80" stroke="#000" stroke-width="1.2"/>
<line x1="200.12" y1="451.30" x2="200.12" y2="455.80" stroke="#000" stroke-width="1.2"/>
<text x="200.12" y="464.70" font-size="9.4" text-anchor="middle" font-family="'Liberation Serif', serif" font-weight="bold" >550</text>
<line x1="213.32" y1="451.30" x2="213.32" y2="453.80" stroke="#000" stroke-width="1.2"/>
<line x1="226.52" y1="451.30" x2="226.52" y2="455.80" stroke="#000" stroke-width="1.2"/>
<text x="226.52" y="464.70" font-size="9.4" text-anchor="middle" font-family="'Liberation Serif', serif" font-weight="bold" >600</text>
<line x1="239.71" y1="451.30" x2="239.71" y2="453.80" stroke="#000" stroke-width="1.2"/>
<line x1="252.91" y1="451.30" x2="252.91" y2="455.80" stroke="#000" stroke-width="1.2"/>
<text x="252.91" y="464.70" font-size="9.4" text-anchor="middle" font-family="'Liberation Serif', serif" font-weight="bold" >650</text>
<line x1="266.11" y1="451.30" x2="266.11" y2="453.80" stroke="#000" stroke-width="1.2"/>
<line x1="279.31" y1="451.30" x2="279.31" y2="455.80" stroke="#000" stroke-width="1.2"/>
<text x="279.31" y="464.70" font-size="9.4" text-anchor="middle" font-family="'Liberation Serif', serif" font-weight="bold" >700</text>
<line x1="292.51" y1="451.30" x2="292.51" y2="453.80" stroke="#000" stroke-width="1.2"/>
<line x1="305.70" y1="451.30" x2="305.70" y2="455.80" stroke="#000" stroke-width="1.2"/>
<text x="305.70" y="464.70" font-size="9.4" text-anchor="middle" font-family="'Liberation Serif', serif" font-weight="bold" >750</text>
<line x1="318.90" y1="451.30" x2="318.90" y2="453.80" stroke="#000" stroke-width="1.2"/>
<line x1="332.10" y1="451.30" x2="332.10" y2="455.80" stroke="#000" stroke-width="1.2"/>
<text x="332.10" y="464.70" font-size="9.4" text-anchor="middle" font-family="'Liberation Serif', serif" font-weight="bold" >800</text>
<rect x="78.70" y="256.10" width="253.40" height="195.20" fill="none" stroke="#000" stroke-width="1.7" stroke-linejoin="round"/>
<text x="151.8" y="480.7" font-size="13.2" font-family="'Liberation Serif', serif" font-weight="bold" textLength="100.7" lengthAdjust="spacing">Wavelength (nm)</text>
<text transform="translate(51.7,439.1) rotate(-90)" font-size="14.5" font-family="'Liberation Serif', serif" font-weight="bold" textLength="172.5" lengthAdjust="spacingAndGlyphs">Absorbance of crude pigmetns</text>
<text x="90.40" y="276.60" font-size="14" text-anchor="start" font-family="'Liberation Serif', serif" font-weight="bold" letter-spacing="0.3">(c)</text>
<rect x="189.1" y="274.1" width="96.5" height="47.6" fill="#fff" stroke="#555" stroke-width="0.8"/>
<line x1="192.80" y1="281.10" x2="215.10" y2="281.10" stroke="#000" stroke-width="1.6"/>
<text x="217.5" y="283.9" font-size="8.4" font-family="'Liberation Serif', serif" font-weight="bold" font-style="italic" textLength="52.1" lengthAdjust="spacing">G. emersonii</text>
<line x1="192.80" y1="293.10" x2="215.10" y2="293.10" stroke="#ff1a1a" stroke-width="1.6"/>
<text x="217.5" y="295.9" font-size="8.4" font-family="'Liberation Serif', serif" font-weight="bold" font-style="italic" textLength="46.9" lengthAdjust="spacing">T. lundiana</text>
<line x1="192.80" y1="304.20" x2="215.10" y2="304.20" stroke="#1a1aff" stroke-width="1.6"/>
<text x="217.5" y="307.0" font-size="8.4" font-family="'Liberation Serif', serif" font-weight="bold" font-style="italic" textLength="65.1" lengthAdjust="spacing">T. andamanoica</text>
<line x1="192.80" y1="315.90" x2="215.10" y2="315.90" stroke="#ff00ff" stroke-width="1.6"/>
<text x="217.5" y="318.7" font-size="8.4" font-family="'Liberation Serif', serif" font-weight="bold" font-style="italic" textLength="51.3" lengthAdjust="spacing">C. curvisetus</text>
<rect x="389.60" y="443.67" width="17.20" height="8.43" fill="#000000" stroke="#000" stroke-width="0.4"/>
<line x1="398.20" y1="442.71" x2="398.20" y2="444.63" stroke="#111" stroke-width="0.85"/>
<line x1="395.90" y1="442.71" x2="400.50" y2="442.71" stroke="#333" stroke-width="0.75"/>
<line x1="395.90" y1="444.63" x2="400.50" y2="444.63" stroke="#111" stroke-width="0.75"/>
<rect x="406.80" y="451.73" width="17.20" height="0.37" fill="#ff0000" stroke="#000" stroke-width="0.4"/>
<rect x="424.00" y="304.28" width="17.20" height="147.82" fill="#0000ff" stroke="#000" stroke-width="0.4"/>
<rect x="423.50" y="352.6" width="18.20" height="3.80" fill="#fff"/>
<line x1="432.60" y1="301.42" x2="432.60" y2="307.14" stroke="#111" stroke-width="0.85"/>
<line x1="430.30" y1="301.42" x2="434.90" y2="301.42" stroke="#333" stroke-width="0.75"/>
<line x1="430.30" y1="307.14" x2="434.90" y2="307.14" stroke="#111" stroke-width="0.75"/>
<rect x="453.90" y="451.73" width="17.20" height="0.37" fill="#000000" stroke="#000" stroke-width="0.4"/>
<rect x="471.10" y="345.41" width="17.20" height="106.69" fill="#ff0000" stroke="#000" stroke-width="0.4"/>
<rect x="470.60" y="352.6" width="18.20" height="3.80" fill="#fff"/>
<line x1="479.70" y1="342.01" x2="479.70" y2="348.82" stroke="#111" stroke-width="0.85"/>
<line x1="477.40" y1="342.01" x2="482.00" y2="342.01" stroke="#333" stroke-width="0.75"/>
<line x1="477.40" y1="348.82" x2="482.00" y2="348.82" stroke="#111" stroke-width="0.75"/>
<rect x="488.30" y="309.86" width="17.20" height="142.24" fill="#0000ff" stroke="#000" stroke-width="0.4"/>
<rect x="487.80" y="352.6" width="18.20" height="3.80" fill="#fff"/>
<line x1="496.90" y1="307.14" x2="496.90" y2="312.59" stroke="#111" stroke-width="0.85"/>
<line x1="494.60" y1="307.14" x2="499.20" y2="307.14" stroke="#333" stroke-width="0.75"/>
<line x1="494.60" y1="312.59" x2="499.20" y2="312.59" stroke="#111" stroke-width="0.75"/>
<rect x="518.20" y="442.02" width="17.20" height="10.08" fill="#000000" stroke="#000" stroke-width="0.4"/>
<line x1="526.80" y1="441.06" x2="526.80" y2="442.98" stroke="#111" stroke-width="0.85"/>
<line x1="524.50" y1="441.06" x2="529.10" y2="441.06" stroke="#333" stroke-width="0.75"/>
<line x1="524.50" y1="442.98" x2="529.10" y2="442.98" stroke="#111" stroke-width="0.75"/>
<rect x="535.40" y="324.17" width="17.20" height="127.93" fill="#ff0000" stroke="#000" stroke-width="0.4"/>
<rect x="534.90" y="352.6" width="18.20" height="3.80" fill="#fff"/>
<line x1="544.00" y1="321.17" x2="544.00" y2="327.16" stroke="#111" stroke-width="0.85"/>
<line x1="541.70" y1="321.17" x2="546.30" y2="321.17" stroke="#333" stroke-width="0.75"/>
<line x1="541.70" y1="327.16" x2="546.30" y2="327.16" stroke="#111" stroke-width="0.75"/>
<rect x="552.60" y="277.99" width="17.20" height="174.11" fill="#0000ff" stroke="#000" stroke-width="0.4"/>
<rect x="552.10" y="352.6" width="18.20" height="3.80" fill="#fff"/>
<line x1="561.20" y1="274.45" x2="561.20" y2="281.53" stroke="#111" stroke-width="0.85"/>
<line x1="558.90" y1="274.45" x2="563.50" y2="274.45" stroke="#333" stroke-width="0.75"/>
<line x1="558.90" y1="281.53" x2="563.50" y2="281.53" stroke="#111" stroke-width="0.75"/>
<rect x="582.50" y="451.73" width="17.20" height="0.37" fill="#000000" stroke="#000" stroke-width="0.4"/>
<rect x="599.70" y="386.45" width="17.20" height="65.65" fill="#ff0000" stroke="#000" stroke-width="0.4"/>
<line x1="608.30" y1="383.61" x2="608.30" y2="389.29" stroke="#111" stroke-width="0.85"/>
<line x1="606.00" y1="383.61" x2="610.60" y2="383.61" stroke="#333" stroke-width="0.75"/>
<line x1="606.00" y1="389.29" x2="610.60" y2="389.29" stroke="#111" stroke-width="0.75"/>
<rect x="616.90" y="366.48" width="17.20" height="85.62" fill="#0000ff" stroke="#000" stroke-width="0.4"/>
<line x1="625.50" y1="364.22" x2="625.50" y2="368.75" stroke="#111" stroke-width="0.85"/>
<line x1="623.20" y1="364.22" x2="627.80" y2="364.22" stroke="#333" stroke-width="0.75"/>
<line x1="623.20" y1="368.75" x2="627.80" y2="368.75" stroke="#111" stroke-width="0.75"/>
<line x1="383.2" y1="257.9" x2="640.5" y2="257.9" stroke="#000" stroke-width="1.7"/>
<line x1="383.2" y1="452.1" x2="640.5" y2="452.1" stroke="#000" stroke-width="1.7"/>
<line x1="383.2" y1="257.09999999999997" x2="383.2" y2="352.6" stroke="#000" stroke-width="1.7"/>
<line x1="383.2" y1="357.0" x2="383.2" y2="452.90000000000003" stroke="#000" stroke-width="1.7"/>
<line x1="378.90" y1="354.9" x2="387.80" y2="351.3" stroke="#000" stroke-width="1.5" stroke-linecap="round"/>
<line x1="378.90" y1="358.3" x2="387.80" y2="354.7" stroke="#000" stroke-width="1.5" stroke-linecap="round"/>
<line x1="640.5" y1="257.09999999999997" x2="640.5" y2="352.6" stroke="#000" stroke-width="1.7"/>
<line x1="640.5" y1="357.0" x2="640.5" y2="452.90000000000003" stroke="#000" stroke-width="1.7"/>
<line x1="636.20" y1="354.9" x2="645.10" y2="351.3" stroke="#000" stroke-width="1.5" stroke-linecap="round"/>
<line x1="636.20" y1="358.3" x2="645.10" y2="354.7" stroke="#000" stroke-width="1.5" stroke-linecap="round"/>
<line x1="378.70" y1="339.42" x2="383.20" y2="339.42" stroke="#000" stroke-width="1.2"/>
<text x="376.00" y="342.32" font-size="9.4" text-anchor="end" font-family="'Liberation Serif', serif" font-weight="bold" >8</text>
<line x1="380.70" y1="325.80" x2="383.20" y2="325.80" stroke="#000" stroke-width="1.2"/>
<line x1="378.70" y1="312.18" x2="383.20" y2="312.18" stroke="#000" stroke-width="1.2"/>
<text x="376.00" y="315.08" font-size="9.4" text-anchor="end" font-family="'Liberation Serif', serif" font-weight="bold" >10</text>
<line x1="380.70" y1="298.56" x2="383.20" y2="298.56" stroke="#000" stroke-width="1.2"/>
<line x1="378.70" y1="284.94" x2="383.20" y2="284.94" stroke="#000" stroke-width="1.2"/>
<text x="376.00" y="287.84" font-size="9.4" text-anchor="end" font-family="'Liberation Serif', serif" font-weight="bold" >12</text>
<line x1="380.70" y1="271.32" x2="383.20" y2="271.32" stroke="#000" stroke-width="1.2"/>
<line x1="378.70" y1="257.70" x2="383.20" y2="257.70" stroke="#000" stroke-width="1.2"/>
<text x="376.00" y="260.60" font-size="9.4" text-anchor="end" font-family="'Liberation Serif', serif" font-weight="bold" >14</text>
<line x1="378.70" y1="452.50" x2="383.20" y2="452.50" stroke="#000" stroke-width="1.2"/>
<text x="376.20" y="455.40" font-size="9.4" text-anchor="end" font-family="'Liberation Serif', serif" font-weight="bold" >0.0</text>
<line x1="380.70" y1="442.90" x2="383.20" y2="442.90" stroke="#000" stroke-width="1.2"/>
<line x1="378.70" y1="433.30" x2="383.20" y2="433.30" stroke="#000" stroke-width="1.2"/>
<text x="376.20" y="436.20" font-size="9.4" text-anchor="end" font-family="'Liberation Serif', serif" font-weight="bold" >0.5</text>
<line x1="380.70" y1="423.70" x2="383.20" y2="423.70" stroke="#000" stroke-width="1.2"/>
<line x1="378.70" y1="414.10" x2="383.20" y2="414.10" stroke="#000" stroke-width="1.2"/>
<text x="376.20" y="417.00" font-size="9.4" text-anchor="end" font-family="'Liberation Serif', serif" font-weight="bold" >1.0</text>
<line x1="380.70" y1="404.50" x2="383.20" y2="404.50" stroke="#000" stroke-width="1.2"/>
<line x1="378.70" y1="394.90" x2="383.20" y2="394.90" stroke="#000" stroke-width="1.2"/>
<text x="376.20" y="397.80" font-size="9.4" text-anchor="end" font-family="'Liberation Serif', serif" font-weight="bold" >1.5</text>
<line x1="380.70" y1="385.30" x2="383.20" y2="385.30" stroke="#000" stroke-width="1.2"/>
<line x1="378.70" y1="375.70" x2="383.20" y2="375.70" stroke="#000" stroke-width="1.2"/>
<text x="376.20" y="378.60" font-size="9.4" text-anchor="end" font-family="'Liberation Serif', serif" font-weight="bold" >2.0</text>
<line x1="380.70" y1="366.10" x2="383.20" y2="366.10" stroke="#000" stroke-width="1.2"/>
<line x1="415.40" y1="452.10" x2="415.40" y2="456.60" stroke="#000" stroke-width="1.2"/>
<line x1="479.70" y1="452.10" x2="479.70" y2="456.60" stroke="#000" stroke-width="1.2"/>
<line x1="544.00" y1="452.10" x2="544.00" y2="456.60" stroke="#000" stroke-width="1.2"/>
<line x1="608.30" y1="452.10" x2="608.30" y2="456.60" stroke="#000" stroke-width="1.2"/>
<line x1="447.55" y1="452.10" x2="447.55" y2="454.60" stroke="#000" stroke-width="1.2"/>
<line x1="511.85" y1="452.10" x2="511.85" y2="454.60" stroke="#000" stroke-width="1.2"/>
<line x1="576.15" y1="452.10" x2="576.15" y2="454.60" stroke="#000" stroke-width="1.2"/>
<text x="415.4" y="465.4" font-size="8.8" text-anchor="middle" font-family="'Liberation Serif', serif" font-weight="bold" font-style="italic" textLength="52.6" lengthAdjust="spacing">G. emersonii</text>
<text x="479.7" y="465.4" font-size="8.8" text-anchor="middle" font-family="'Liberation Serif', serif" font-weight="bold" font-style="italic" textLength="46.8" lengthAdjust="spacing">T. lundiana</text>
<text x="544.0" y="465.4" font-size="8.8" text-anchor="middle" font-family="'Liberation Serif', serif" font-weight="bold" font-style="italic" textLength="64.2" lengthAdjust="spacing">T. andamanoica</text>
<text x="608.3" y="465.4" font-size="8.8" text-anchor="middle" font-family="'Liberation Serif', serif" font-weight="bold" font-style="italic" textLength="52.6" lengthAdjust="spacing">C. curvisetus</text>
<text x="476.0" y="482.2" font-size="13.8" font-family="'Liberation Serif', serif" font-weight="bold" textLength="69.2" lengthAdjust="spacing">Microalgae</text>
<text transform="translate(354.8,437.1) rotate(-90)" font-size="14.5" font-family="'Liberation Serif', serif" font-weight="bold" textLength="148" lengthAdjust="spacingAndGlyphs">Pigment Conc. (mg/gDW)</text>
<text x="389.80" y="276.60" font-size="14" text-anchor="start" font-family="'Liberation Serif', serif" font-weight="bold" letter-spacing="0.3">(d)</text>
<rect x="439.5" y="260.3" width="84.3" height="35.7" fill="#fff" stroke="#555" stroke-width="0.8"/>
<rect x="442.3" y="262" width="22.2" height="8.5" fill="#000" stroke="#000" stroke-width="0.5"/>
<text x="467" y="269.0" font-size="8.6" font-family="'Liberation Serif', serif" font-weight="bold" textLength="22.1" lengthAdjust="spacing">Chl <tspan font-style="italic">a</tspan></text>
<rect x="442.3" y="273" width="22.2" height="9.4" fill="#ff0000" stroke="#000" stroke-width="0.5"/>
<text x="467" y="280.9" font-size="8.6" font-family="'Liberation Serif', serif" font-weight="bold" textLength="52.3" lengthAdjust="spacing">Fucoxanthin</text>
<rect x="442.3" y="284.8" width="22.2" height="9.3" fill="#0000ff" stroke="#000" stroke-width="0.5"/>
<text x="467" y="292.6" font-size="8.6" font-family="'Liberation Serif', serif" font-weight="bold" textLength="47.4" lengthAdjust="spacing">β-Carotene</text>
</svg>
</body></html>
